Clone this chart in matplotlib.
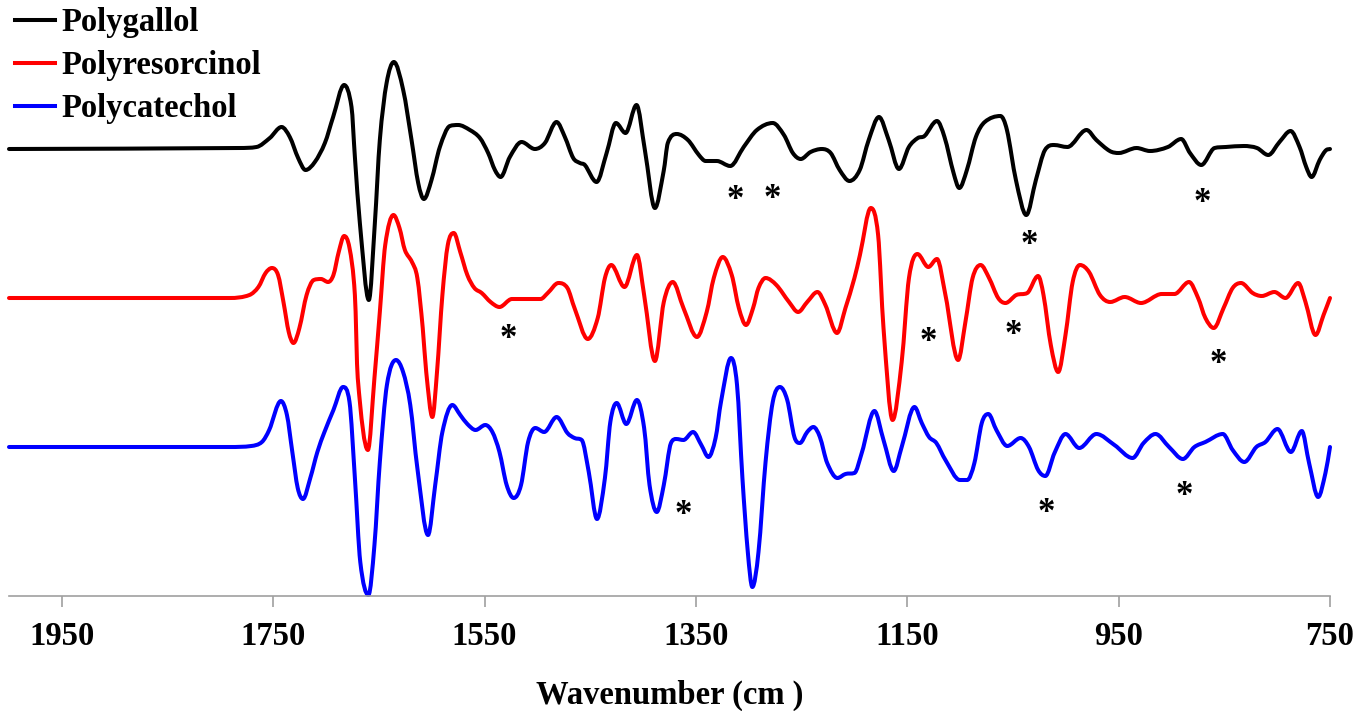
import matplotlib
matplotlib.use('Agg')
import matplotlib.pyplot as plt
from matplotlib.path import Path
from matplotlib.patches import PathPatch
from matplotlib.lines import Line2D

# Second-derivative FTIR spectra (arbitrary units, relative to each baseline)
series_names = ['Polygallol', 'Polyresorcinol', 'Polycatechol']

wn_gallol = [2000, 1781.6, 1765.8, 1753.2, 1742.1, 1734.3, 1726.4, 1719.4, 1710.6, 1701.1,
             1693.3, 1682.9, 1675.9, 1672.7, 1668.0, 1659.5, 1653.8, 1649.1, 1642.7, 1635.8,
             1627.0, 1619.1, 1612.8, 1607.4, 1600.2, 1592.3, 1582.8, 1575.0, 1563.9, 1554.4,
             1546.6, 1540.2, 1534.8, 1526.1, 1515.0, 1502.4, 1492.9, 1481.9, 1474.0, 1466.1,
             1459.8, 1455.1, 1444.0, 1434.5, 1425.7, 1416.6, 1406.2, 1398.3, 1388.8, 1380.5,
             1376.6, 1368.2, 1357.6, 1347.2, 1340.8, 1330.2, 1317.5, 1304.8, 1292.3, 1277.3,
             1266.7, 1258.3, 1250.8, 1241.5, 1230.9, 1222.5, 1214.0, 1204.7, 1195.0, 1186.5,
             1176.8, 1167.6, 1157.9, 1148.5, 1140.0, 1133.7, 1121.9, 1114.8, 1106.2, 1100.8,
             1093.6, 1085.1, 1076.7, 1061.9, 1055.7, 1047.2, 1037.4, 1028.3, 1019.7, 1011.2,
             998.5, 980.4, 971.1, 958.4, 949.9, 933.1, 920.4, 903.4, 890.8, 882.5,
             871.8, 859.2, 848.6, 831.6, 819.1, 808.4, 797.8, 787.3, 778.8, 772.5,
             767.4, 759.8, 753.5, 750]
d2_gallol = [0, 0.01, 0.02, 0.11, 0.22, 0.12, -0.09, -0.21, -0.13, 0.06,
             0.32, 0.64, 0.42, -0.08, -0.74, -1.51, -0.74, 0.09, 0.66, 0.87,
             0.59, 0.09, -0.34, -0.50, -0.31, 0.02, 0.23, 0.24, 0.19, 0.11,
             -0.04, -0.21, -0.28, -0.08, 0.07, 0.00, 0.06, 0.27, 0.12, -0.09,
             -0.14, -0.16, -0.33, -0.04, 0.26, 0.16, 0.44, -0.01, -0.59, -0.22,
             0.06, 0.15, 0.09, -0.06, -0.12, -0.12, -0.17, 0.02, 0.19, 0.26,
             0.14, -0.04, -0.10, -0.03, 0.00, -0.04, -0.21, -0.32, -0.21, 0.09,
             0.32, 0.09, -0.20, 0.02, 0.11, 0.13, 0.28, 0.12, -0.24, -0.39,
             -0.21, 0.12, 0.27, 0.33, 0.19, -0.31, -0.66, -0.31, -0.01, 0.04,
             0.02, 0.19, 0.09, -0.02, -0.04, 0.01, -0.02, 0.02, 0.10, -0.04,
             -0.16, 0.01, 0.02, 0.03, 0.01, -0.06, 0.07, 0.18, 0.02, -0.18,
             -0.28, -0.11, -0.01, 0.00]

wn_resorcinol = [2000, 1791.0, 1772.5, 1764.0, 1757.2, 1751.2, 1745.4, 1740.3, 1735.3, 1730.8,
                 1725.2, 1718.4, 1711.6, 1704.8, 1698.1, 1693.0, 1688.0, 1682.9, 1677.8, 1672.7,
                 1670.0, 1660.4, 1654.2, 1649.1, 1644.0, 1636.2, 1630.5, 1625.4, 1618.7, 1613.6,
                 1608.5, 1605.2, 1599.4, 1595.0, 1589.9, 1584.8, 1579.1, 1573.0, 1566.3, 1559.6,
                 1552.7, 1544.3, 1535.9, 1524.1, 1510.5, 1497.0, 1490.2, 1480.1, 1471.6, 1464.9,
                 1452.3, 1442.9, 1436.1, 1430.1, 1417.6, 1405.8, 1399.0, 1388.8, 1380.4, 1371.9,
                 1361.8, 1349.0, 1339.8, 1333.1, 1324.6, 1316.1, 1309.4, 1302.6, 1295.9, 1290.8,
                 1284.1, 1273.9, 1261.9, 1253.3, 1244.7, 1235.0, 1227.5, 1216.5, 1208.5, 1200.0,
                 1194.8, 1184.5, 1177.6, 1172.5, 1163.9, 1155.3, 1148.4, 1140.4, 1130.1, 1121.9,
                 1113.9, 1101.9, 1095.0, 1088.2, 1080.6, 1072.6, 1064.0, 1057.1, 1046.8, 1036.5,
                 1026.2, 1021.1, 1014.2, 1007.2, 1000.3, 993.5, 986.6, 978.0, 967.7, 958.0,
                 944.3, 928.8, 909.2, 897.2, 883.4, 874.8, 867.9, 860.0, 850.7, 842.1,
                 834.2, 823.2, 814.6, 802.6, 792.1, 780.1, 773.2, 763.7, 756.1, 750]
d2_resorcinol = [0, 0.00, 0.03, 0.11, 0.25, 0.30, 0.23, -0.04, -0.34, -0.45,
                 -0.30, 0.03, 0.18, 0.19, 0.16, 0.23, 0.46, 0.62, 0.50, 0.03,
                 -0.80, -1.52, -0.80, -0.14, 0.53, 0.83, 0.70, 0.48, 0.36, 0.20,
                 -0.30, -0.74, -1.19, -0.74, 0.03, 0.53, 0.65, 0.46, 0.23, 0.10,
                 0.05, -0.04, -0.09, -0.01, -0.01, -0.01, 0.05, 0.15, 0.10, -0.10,
                 -0.41, -0.20, 0.20, 0.33, 0.11, 0.43, 0.03, -0.63, -0.04, 0.16,
                 -0.10, -0.39, -0.14, 0.20, 0.41, 0.23, -0.10, -0.27, -0.10, 0.10,
                 0.20, 0.13, -0.04, -0.14, -0.04, 0.06, -0.07, -0.35, -0.10, 0.20,
                 0.43, 0.90, 0.63, -0.30, -1.22, -0.64, 0.20, 0.44, 0.31, 0.39,
                 0.03, -0.62, -0.24, 0.20, 0.33, 0.20, 0.00, -0.05, 0.03, 0.05,
                 0.22, 0.03, -0.47, -0.74, -0.37, 0.16, 0.33, 0.26, 0.03, -0.04,
                 0.01, -0.05, 0.04, 0.04, 0.16, 0.00, -0.20, -0.30, -0.10, 0.10,
                 0.15, 0.05, 0.02, 0.06, 0.00, 0.15, -0.04, -0.37, -0.17, 0.00]

wn_catechol = [2000, 1791.0, 1770.8, 1760.7, 1753.8, 1742.7, 1737.0, 1731.9, 1726.8, 1721.8,
               1714.9, 1708.2, 1701.5, 1693.0, 1683.9, 1677.8, 1672.7, 1667.6, 1659.9, 1654.2,
               1649.1, 1642.4, 1633.8, 1627.1, 1620.3, 1613.6, 1603.5, 1596.7, 1589.9, 1580.5,
               1573.0, 1566.3, 1558.5, 1549.3, 1542.6, 1535.9, 1529.1, 1522.4, 1515.5, 1508.8,
               1502.0, 1493.6, 1481.8, 1471.6, 1464.9, 1458.1, 1451.4, 1443.6, 1436.1, 1431.0,
               1425.0, 1415.9, 1405.8, 1399.0, 1393.9, 1387.1, 1380.4, 1373.6, 1368.6, 1361.8,
               1352.7, 1344.9, 1338.1, 1331.4, 1326.3, 1316.8, 1311.1, 1306.0, 1300.9, 1296.6,
               1290.8, 1284.1, 1277.3, 1270.5, 1263.6, 1256.8, 1251.6, 1244.7, 1238.8, 1232.7,
               1225.8, 1216.1, 1208.5, 1200.0, 1193.1, 1181.1, 1172.5, 1162.8, 1155.3, 1143.2,
               1136.3, 1129.4, 1122.5, 1113.9, 1100.2, 1093.3, 1086.5, 1079.5, 1073.3, 1065.7,
               1055.4, 1042.7, 1034.8, 1026.2, 1019.3, 1010.7, 1000.3, 987.3, 971.1, 954.0,
               936.8, 926.4, 915.1, 902.3, 889.2, 878.3, 867.9, 851.4, 842.1, 831.1,
               819.7, 811.1, 799.7, 787.0, 776.7, 769.8, 761.2, 754.3, 750]
d2_catechol = [0, 0.00, 0.01, 0.05, 0.17, 0.46, 0.32, -0.05, -0.41, -0.52,
               -0.31, -0.05, 0.15, 0.37, 0.60, 0.45, -0.31, -1.15, -1.48, -0.98,
               -0.15, 0.62, 0.87, 0.75, 0.42, -0.21, -0.88, -0.38, 0.15, 0.42,
               0.32, 0.23, 0.17, 0.22, 0.15, -0.05, -0.38, -0.51, -0.38, 0.05,
               0.19, 0.15, 0.30, 0.14, 0.09, 0.07, -0.25, -0.72, -0.31, 0.25,
               0.44, 0.23, 0.47, 0.19, -0.38, -0.65, -0.38, 0.04, 0.08, 0.07,
               0.15, 0.02, -0.10, 0.09, 0.45, 0.89, 0.62, -0.31, -1.05, -1.40,
               -1.05, -0.15, 0.45, 0.60, 0.47, 0.10, 0.04, 0.15, 0.20, 0.10,
               -0.16, -0.31, -0.27, -0.26, -0.06, 0.36, 0.07, -0.24, 0.00, 0.40,
               0.24, 0.10, 0.04, -0.13, -0.33, -0.33, -0.16, 0.24, 0.33, 0.17,
               0.01, 0.09, 0.00, -0.23, -0.29, -0.06, 0.13, -0.01, 0.13, 0.02,
               -0.11, 0.04, 0.13, 0.00, -0.12, 0.00, 0.05, 0.13, -0.03, -0.15,
               0.00, 0.05, 0.18, -0.05, 0.16, -0.16, -0.50, -0.26, 0.00]

# vertical stacking of the three traces
offsets = [4.47, 2.98, 1.49]

# asterisk marks (wavenumber, value relative to the trace baseline)
star_gallol_wn = [1312.5, 1277.3, 1034.4, 871.0]
star_gallol_y = [-0.44, -0.43, -0.89, -0.47]
star_resorcinol_wn = [1528.0, 1130.5, 1049.3, 855.8]
star_resorcinol_y = [-0.34, -0.37, -0.30, -0.59]
star_catechol_wn = [1361.8, 1018.3, 887.5]
star_catechol_y = [-0.61, -0.59, -0.42]

tick_values = [1950, 1750, 1550, 1350, 1150, 950, 750]


def smoothed_path(x, y):
    '''Smoothed line through the points (like a spreadsheet "smoothed line"),
    drawn as cubic Bezier segments; flat tangents at local extrema.'''
    n = len(x)
    d = [(y[i + 1] - y[i]) / (x[i + 1] - x[i]) for i in range(n - 1)]
    m = []
    for i in range(n):
        if i == 0:
            m.append(d[0])
        elif i == n - 1:
            m.append(d[-1])
        elif d[i - 1] * d[i] <= 0:
            m.append(0.0)
        else:
            s = (y[i + 1] - y[i - 1]) / (x[i + 1] - x[i - 1])
            lim = 3 * min(abs(d[i - 1]), abs(d[i]))
            m.append(max(-lim, min(lim, s)))
    verts = [(x[0], y[0])]
    codes = [Path.MOVETO]
    for i in range(n - 1):
        h = (x[i + 1] - x[i]) / 3
        verts += [(x[i] + h, y[i] + m[i] * h), (x[i + 1] - h, y[i + 1] - m[i + 1] * h),
                  (x[i + 1], y[i + 1])]
        codes += [Path.CURVE4] * 3
    return Path(verts, codes)


plt.rcParams['font.family'] = ['Liberation Serif', 'DejaVu Serif']
FS = 23.5
STAR_FS = 25

fig = plt.figure(figsize=(13.70, 7.11), dpi=100)
ax = fig.add_axes([9 / 1370, 1 - 596 / 711, 1321 / 1370, 596 / 711])

spectra = [(wn_gallol, d2_gallol), (wn_resorcinol, d2_resorcinol), (wn_catechol, d2_catechol)]
colors = ['#000000', '#FF0000', '#0000FF']
handles = []
for (wn, d2), off, col, name in zip(spectra, offsets, colors, series_names):
    path = smoothed_path(wn, [v + off for v in d2])
    ax.add_patch(PathPatch(path, facecolor='none', edgecolor=col, lw=2.9,
                           joinstyle='round', capstyle='round', clip_on=False))
    handles.append(Line2D([], [], color=col, lw=2.9, label=name))

stars = [(star_gallol_wn, star_gallol_y), (star_resorcinol_wn, star_resorcinol_y),
         (star_catechol_wn, star_catechol_y)]
for (sw, sy), off in zip(stars, offsets):
    for w, y in zip(sw, sy):
        ax.annotate('*', xy=(w, y + off), xytext=(0, -0.46 * STAR_FS),
                    textcoords='offset points', ha='center', va='baseline',
                    fontsize=STAR_FS, fontweight='bold', color='black')

ax.set_xlim(2000, 750)
ax.set_ylim(0, 5.96)
ax.set_xticks(tick_values)
ax.set_xticklabels([str(t) for t in tick_values], fontsize=FS, fontweight='bold')
ax.set_yticks([])
for side in ['top', 'right', 'left']:
    ax.spines[side].set_visible(False)
ax.spines['bottom'].set_color('#A0A0A0')
ax.spines['bottom'].set_linewidth(1.2)
ax.tick_params(axis='x', direction='out', length=8, width=1.2, color='#A0A0A0', pad=10)
ax.set_xlabel('Wavenumber (cm )', fontsize=FS, fontweight='bold', labelpad=20)

ax.legend(handles=handles, loc='upper left', bbox_to_anchor=(0, 1.011),
          bbox_transform=fig.transFigure, frameon=False,
          prop={'size': FS, 'weight': 'bold'}, handlelength=1.23,
          handletextpad=0.2, borderpad=0.46, borderaxespad=0, labelspacing=0.37)

fig.savefig('out.png', dpi=100)
